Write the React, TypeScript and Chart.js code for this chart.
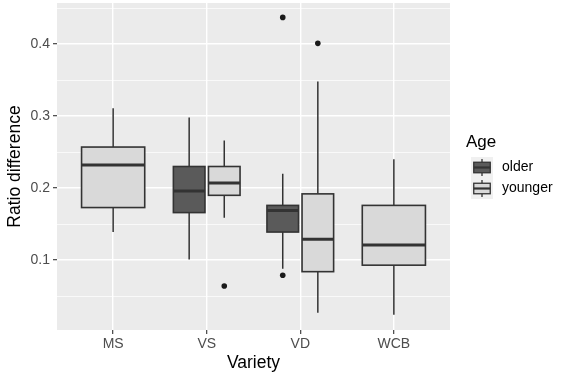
import React, { useEffect, useRef } from "react";
import { Chart, registerables } from "chart.js";

Chart.register(...registerables);

// ---- data ----
const varieties = ["MS", "VS", "VD", "WCB"];
const ageGroups = ["older", "younger"];
const boxVariety = ["MS", "VS", "VS", "VD", "VD", "WCB"];
const boxAge = ["younger", "older", "younger", "older", "younger", "younger"];
const whiskerLow = [0.139, 0.101, 0.159, 0.088, 0.027, 0.024];
const quartile1 = [0.173, 0.166, 0.19, 0.139, 0.084, 0.093];
const medians = [0.232, 0.196, 0.207, 0.169, 0.129, 0.121];
const quartile3 = [0.257, 0.23, 0.23, 0.176, 0.192, 0.176];
const whiskerHigh = [0.311, 0.298, 0.266, 0.22, 0.348, 0.24];
const outlierVariety = ["VS", "VD", "VD", "VD"];
const outlierAge = ["younger", "older", "older", "younger"];
const outlierValues = [0.064, 0.437, 0.079, 0.401];
const yMajorTicks = [0.1, 0.2, 0.3, 0.4];
const yMinorTicks = [0.05, 0.15, 0.25, 0.35, 0.45];
const yLimits = [0.003, 0.457];
const xLimits = [0.4, 4.6];

const ageFill: Record<string, string> = { older: "#5A5A5A", younger: "#D9D9D9" };
const FONT = "'Liberation Sans', Arial, Helvetica, sans-serif";
const INK = "#333333";

function isMajor(v: number) {
  return yMajorTicks.some((t) => Math.abs(t - v) < 1e-9);
}

function boxSlot(variety: string, age: string) {
  const vi = varieties.indexOf(variety) + 1;
  const present = ageGroups.filter((a) =>
    boxVariety.some((v, i) => v === variety && boxAge[i] === a)
  );
  const n = Math.max(present.length, 1);
  const k = Math.max(present.indexOf(age), 0);
  const total = 0.75;
  const slot = total / n;
  const center = vi - total / 2 + slot * (k + 0.5);
  const half = (slot * 0.9) / 2;
  return { center, half };
}

const panelBg = {
  id: "panelBg",
  beforeDraw(chart: any) {
    const { ctx, chartArea: a } = chart;
    ctx.save();
    ctx.fillStyle = "#EBEBEB";
    ctx.fillRect(a.left, a.top, a.right - a.left, a.bottom - a.top);
    ctx.restore();
  },
};

const boxplotPlugin = {
  id: "boxplotPlugin",
  beforeDatasetsDraw(chart: any) {
    const { ctx } = chart;
    const xs = chart.scales.x;
    const ys = chart.scales.y;
    ctx.save();
    boxVariety.forEach((variety, i) => {
      const { center, half } = boxSlot(variety, boxAge[i]);
      const cx = xs.getPixelForValue(center);
      const l = xs.getPixelForValue(center - half);
      const r = xs.getPixelForValue(center + half);
      const yLo = ys.getPixelForValue(whiskerLow[i]);
      const yQ1 = ys.getPixelForValue(quartile1[i]);
      const yMed = ys.getPixelForValue(medians[i]);
      const yQ3 = ys.getPixelForValue(quartile3[i]);
      const yHi = ys.getPixelForValue(whiskerHigh[i]);
      ctx.strokeStyle = INK;
      ctx.lineWidth = 1.5;
      ctx.beginPath();
      ctx.moveTo(cx, yHi);
      ctx.lineTo(cx, yQ3);
      ctx.moveTo(cx, yQ1);
      ctx.lineTo(cx, yLo);
      ctx.stroke();
      ctx.fillStyle = ageFill[boxAge[i]];
      ctx.fillRect(l, yQ3, r - l, yQ1 - yQ3);
      ctx.lineWidth = 1.6;
      ctx.strokeRect(l, yQ3, r - l, yQ1 - yQ3);
      ctx.lineWidth = 3;
      ctx.beginPath();
      ctx.moveTo(l, yMed);
      ctx.lineTo(r, yMed);
      ctx.stroke();
    });
    ctx.restore();
  },
};

const legendPlugin = {
  id: "ageLegend",
  afterDraw(chart: any) {
    const { ctx, chartArea } = chart;
    const x0 = chartArea.right + 16;
    ctx.save();
    ctx.fillStyle = "#000000";
    ctx.font = `17px ${FONT}`;
    ctx.textAlign = "left";
    ctx.textBaseline = "alphabetic";
    ctx.fillText("Age", x0, 147);
    const kw = 22;
    const kh = 21;
    ageGroups.forEach((age, k) => {
      const left = x0 + 5;
      const top = 157 + k * kh;
      ctx.fillStyle = "#F0F0F0";
      ctx.fillRect(left, top, kw, kh);
      const cx = left + kw / 2;
      ctx.strokeStyle = INK;
      ctx.lineWidth = 1.3;
      ctx.beginPath();
      ctx.moveTo(cx, top + 0.1 * kh);
      ctx.lineTo(cx, top + 0.25 * kh);
      ctx.moveTo(cx, top + 0.75 * kh);
      ctx.lineTo(cx, top + 0.9 * kh);
      ctx.stroke();
      const bl = left + 0.125 * kw;
      const bw = 0.75 * kw;
      const bt = top + 0.25 * kh;
      const bh = 0.5 * kh;
      ctx.fillStyle = ageFill[age];
      ctx.fillRect(bl, bt, bw, bh);
      ctx.strokeRect(bl, bt, bw, bh);
      ctx.lineWidth = 2.2;
      ctx.beginPath();
      ctx.moveTo(bl, top + kh / 2);
      ctx.lineTo(bl + bw, top + kh / 2);
      ctx.stroke();
      ctx.fillStyle = "#000000";
      ctx.font = `14px ${FONT}`;
      ctx.textBaseline = "middle";
      ctx.fillText(age, x0 + 36, top + kh / 2);
    });
    ctx.restore();
  },
};

export default function App() {
  const canvasRef = useRef<HTMLCanvasElement | null>(null);

  useEffect(() => {
    const canvas = canvasRef.current;
    if (!canvas) return;
    const outlierPoints = outlierValues.map((v, i) => ({
      x: boxSlot(outlierVariety[i], outlierAge[i]).center,
      y: v,
    }));
    const chart = new Chart(canvas, {
      type: "scatter",
      data: {
        datasets: [
          {
            label: "outliers",
            data: outlierPoints,
            pointRadius: 2.8,
            pointHoverRadius: 2.8,
            backgroundColor: "#1A1A1A",
            borderWidth: 0,
          },
        ],
      },
      options: {
        responsive: false,
        animation: false,
        events: [],
        layout: { padding: { top: 3, right: 111, left: 0, bottom: 0 } },
        plugins: { legend: { display: false }, tooltip: { enabled: false } },
        scales: {
          x: {
            type: "linear",
            min: xLimits[0],
            max: xLimits[1],
            afterBuildTicks: (s: any) => {
              s.ticks = varieties.map((_, i) => ({ value: i + 1 }));
            },
            afterFit: (s: any) => {
              s.height = 44;
              s.paddingLeft = 0;
              s.paddingRight = 0;
            },
            ticks: {
              autoSkip: false,
              maxRotation: 0,
              padding: 2,
              color: "#4D4D4D",
              font: { family: FONT, size: 14 },
              callback: (v: any) => varieties[Math.round(Number(v)) - 1] ?? "",
            },
            grid: {
              color: "#FFFFFF",
              lineWidth: 1.4,
              tickLength: 4,
              tickColor: INK,
              tickWidth: 1.1,
            },
            border: { display: false },
            title: {
              display: true,
              text: "Variety",
              color: "#000000",
              font: { family: FONT, size: 17.5 },
              padding: { top: 0, bottom: 0 },
            },
          },
          y: {
            type: "linear",
            min: yLimits[0],
            max: yLimits[1],
            afterBuildTicks: (s: any) => {
              s.ticks = [...yMinorTicks, ...yMajorTicks]
                .sort((a, b) => a - b)
                .map((v) => ({ value: v }));
            },
            afterFit: (s: any) => {
              s.width = 57;
              s.paddingTop = 0;
              s.paddingBottom = 0;
            },
            ticks: {
              autoSkip: false,
              padding: 3,
              color: "#4D4D4D",
              font: { family: FONT, size: 14 },
              callback: (v: any) => (isMajor(Number(v)) ? Number(v).toFixed(1) : ""),
            },
            grid: {
              color: "#FFFFFF",
              lineWidth: (c: any) => (c.tick && isMajor(c.tick.value) ? 1.4 : 0.7),
              tickLength: 4,
              tickColor: (c: any) =>
                c.tick && isMajor(c.tick.value) ? INK : "rgba(0,0,0,0)",
              tickWidth: 1.1,
            },
            border: { display: false },
            title: {
              display: true,
              text: "Ratio difference",
              color: "#000000",
              font: { family: FONT, size: 17.5 },
              padding: { top: 5, bottom: 0 },
            },
          },
        },
      },
      plugins: [panelBg, boxplotPlugin, legendPlugin],
    } as any);
    return () => chart.destroy();
  }, []);

  return (
    <canvas
      ref={canvasRef}
      width={561}
      height={374}
      style={{ position: "fixed", left: 0, top: 0, display: "block" }}
    />
  );
}
